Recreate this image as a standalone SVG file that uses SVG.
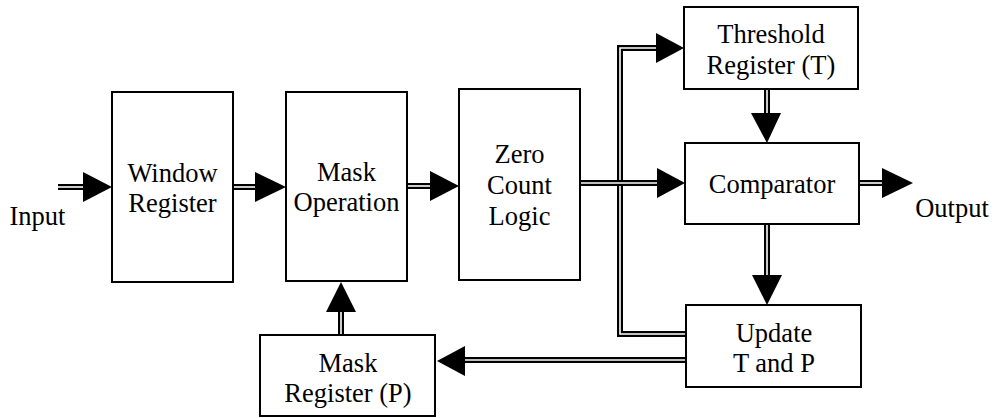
<svg xmlns="http://www.w3.org/2000/svg" xmlns:xlink="http://www.w3.org/1999/xlink" width="996" height="418" viewBox="0 0 996 418">
<style>
.box{fill:#fff;stroke:#000;stroke-width:2}
.t{font-family:"Liberation Serif","Times New Roman",serif;font-size:26.5px;fill:#000;text-anchor:middle}
.outer{fill:none;stroke:#000;stroke-width:6;stroke-linejoin:miter}
.inner{fill:none;stroke:#fff;stroke-width:1.6;stroke-linejoin:miter}
.head{fill:#000}
</style>
<defs>
<path id="c1" d="M58,187 H84"/>
<path id="c2" d="M233,187 H256"/>
<path id="c3" d="M407,186 H431"/>
<path id="c4" d="M580,183 H658"/>
<path id="c5" d="M686,334 H620 V48 H657"/>
<path id="c6" d="M767,89 V114"/>
<path id="c7" d="M859,183 H883"/>
<path id="c8" d="M767,224 V276"/>
<path id="c9" d="M686,360 H464"/>
<path id="c10" d="M341,335 V311"/>
</defs>
<g id="connectors">
<use xlink:href="#c5" class="outer"/><use xlink:href="#c5" class="inner"/>
<use xlink:href="#c4" class="outer"/><use xlink:href="#c4" class="inner"/>
<use xlink:href="#c1" class="outer"/><use xlink:href="#c1" class="inner"/>
<use xlink:href="#c2" class="outer"/><use xlink:href="#c2" class="inner"/>
<use xlink:href="#c3" class="outer"/><use xlink:href="#c3" class="inner"/>
<use xlink:href="#c6" class="outer"/><use xlink:href="#c6" class="inner"/>
<use xlink:href="#c7" class="outer"/><use xlink:href="#c7" class="inner"/>
<use xlink:href="#c8" class="outer"/><use xlink:href="#c8" class="inner"/>
<use xlink:href="#c9" class="outer"/><use xlink:href="#c9" class="inner"/>
<use xlink:href="#c10" class="outer"/><use xlink:href="#c10" class="inner"/>
<polygon class="head" points="83,172 112,187 83,202"/>
<polygon class="head" points="255,172 286,187 255,202"/>
<polygon class="head" points="430,171 459,186 430,201"/>
<polygon class="head" points="657,168 685,183 657,198"/>
<polygon class="head" points="656,33 684,48 656,63"/>
<polygon class="head" points="751,113 767,143 781,113"/>
<polygon class="head" points="882,168 913,183 882,198"/>
<polygon class="head" points="752,275 767,305 782,275"/>
<polygon class="head" points="465,346 437,361 465,376"/>
<polygon class="head" points="326,312 341,282 356,312"/>
</g>
<g id="input"><text class="t" x="37.5" y="225">Input</text></g>
<g id="output"><text class="t" x="952" y="217">Output</text></g>
<g id="window-register">
<rect class="box" x="112" y="92" width="121" height="190"/>
<text class="t" x="172.5" y="182">Window</text>
<text class="t" x="172.5" y="212">Register</text>
</g>
<g id="mask-operation">
<rect class="box" x="286" y="92" width="121" height="189"/>
<text class="t" x="346.5" y="181">Mask</text>
<text class="t" x="346.5" y="211">Operation</text>
</g>
<g id="zero-count-logic">
<rect class="box" x="459" y="89" width="121" height="191"/>
<text class="t" x="519.5" y="163">Zero</text>
<text class="t" x="519.5" y="194">Count</text>
<text class="t" x="519.5" y="225">Logic</text>
</g>
<g id="threshold-register">
<rect class="box" x="684" y="7" width="174" height="82"/>
<text class="t" x="771" y="43">Threshold</text>
<text class="t" x="771" y="74">Register (T)</text>
</g>
<g id="comparator">
<rect class="box" x="685" y="143" width="174" height="81"/>
<text class="t" x="772" y="193">Comparator</text>
</g>
<g id="update">
<rect class="box" x="686" y="305" width="175" height="82"/>
<text class="t" x="774" y="342">Update</text>
<text class="t" x="774" y="372">T and P</text>
</g>
<g id="mask-register">
<rect class="box" x="260" y="335" width="175" height="81"/>
<text class="t" x="348" y="372">Mask</text>
<text class="t" x="348" y="402">Register (P)</text>
</g>
</svg>
